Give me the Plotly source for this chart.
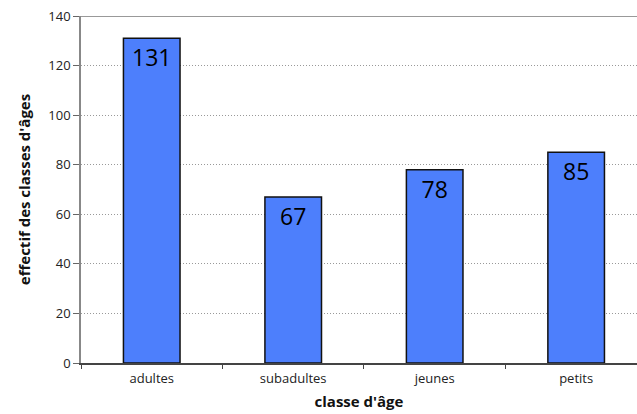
import plotly.graph_objects as go

categories = ["adultes", "subadultes", "jeunes", "petits"]
values = [131, 67, 78, 85]
y_ticks = [0, 20, 40, 60, 80, 100, 120, 140]

fig = go.Figure()
fig.add_trace(go.Bar(
    x=categories, y=values, width=0.4,
    marker=dict(color="#4d7ffc", line=dict(color="#111111", width=1.5)),
    text=[str(v) for v in values], textposition="inside", insidetextanchor="end",
    textfont=dict(family="Open Sans", size=23, color="#000000"),
    cliponaxis=False,
))

fig.update_layout(
    width=637, height=414,
    margin=dict(l=81, r=0, t=16, b=51),
    plot_bgcolor="white", paper_bgcolor="white",
    showlegend=False,
    font=dict(family="Open Sans", color="#222222"),
    xaxis=dict(
        type="category", range=[-0.5, 3.43],
        showline=True, linecolor="#444444", linewidth=1.5,
        ticks="outside", tickson="boundaries", ticklen=4, tickcolor="#444444",
        tickfont=dict(size=13, color="#222222"), ticklabelstandoff=3,
        title=dict(text="<b>classe d'âge</b>", font=dict(size=15, color="#111111"), standoff=10),
        showgrid=False,
    ),
    yaxis=dict(
        range=[0, 140], tickvals=y_ticks,
        showline=True, linecolor="#888888", linewidth=1.5,
        ticks="outside", ticklen=6, tickcolor="#666666",
        tickfont=dict(size=13, color="#222222"),
        showgrid=True, gridcolor="#999999", griddash="1px,2px", gridwidth=1,
        zeroline=False,
        title=dict(text="<b>effectif des classes d'âges</b>", font=dict(size=15, color="#111111"), standoff=14),
    ),
    shapes=[dict(type="line", xref="paper", yref="y", x0=0, x1=1, y0=140, y1=140,
                 line=dict(color="#999999", width=2))],
)

fig.write_html("out.html")
